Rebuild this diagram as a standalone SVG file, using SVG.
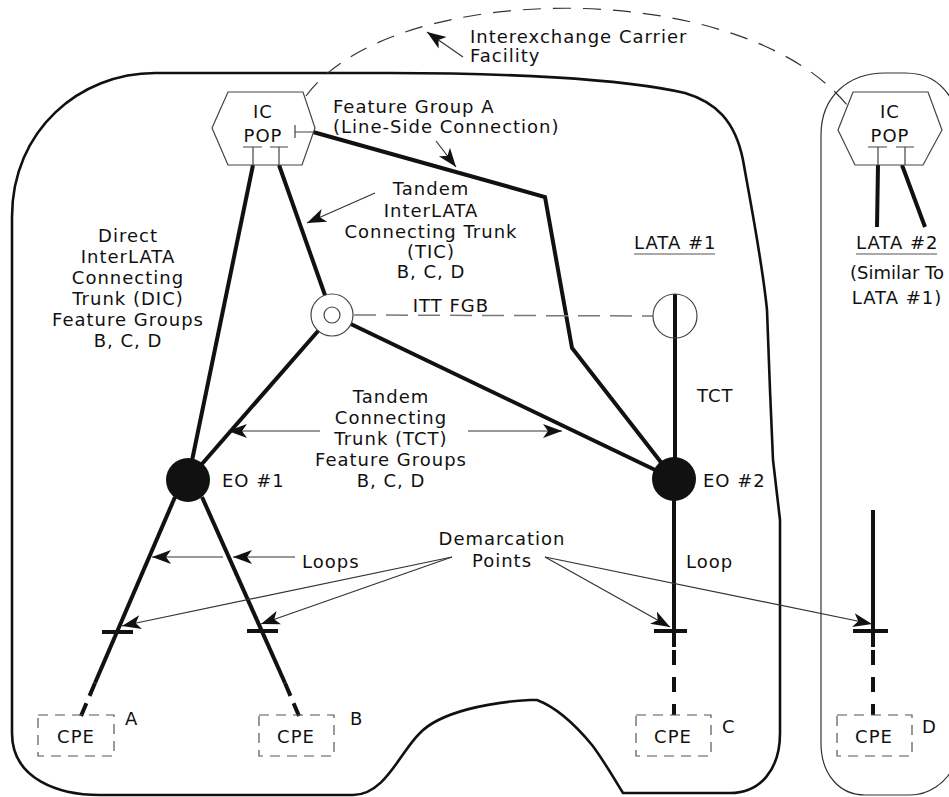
<svg xmlns="http://www.w3.org/2000/svg" width="949" height="797" viewBox="0 0 949 797">
<style>
text{font-family:"DejaVu Sans","Liberation Sans",sans-serif;font-size:18px;letter-spacing:1px;fill:#111}
.m{text-anchor:middle}
.thick{stroke:#111;stroke-width:4;fill:none}
.thickd{stroke:#111;stroke-width:4;fill:none;stroke-dasharray:15 12}
.hex{fill:#fff;stroke:#444;stroke-width:1.2}
.thin{stroke:#444;stroke-width:1.2;fill:none}
.arr{stroke:#333;stroke-width:1.2;fill:none;marker-end:url(#ah)}
.cpe{fill:none;stroke:#555;stroke-width:1.2;stroke-dasharray:10 7}
.tick{stroke:#111;stroke-width:4}
</style>
<defs>
<marker id="ah" markerUnits="userSpaceOnUse" markerWidth="22" markerHeight="16" viewBox="0 -8 22 16" refX="19" refY="0" orient="auto">
<path d="M0,-7 L19,0 L0,7 L5,0 z" fill="#111"/>
</marker>
</defs>
<rect width="949" height="797" fill="#fff"/>

<g id="boundaries">
<path d="M12,733 L12,217 C12,130 80,73 155,73 L390,73 C500,73 620,78 685,93 C715,102 735,120 743,160 C750,200 762,260 767,310 L770,390 L773,460 L780,520 L780,733 C780,770 760,793 730,793 L623,793 C612,775 602,758 592,745 C578,728 558,708 537,700 L530,700 C490,702 440,712 420,733 C400,752 385,795 353,795 L100,795 C60,795 12,780 12,733 Z" fill="none" stroke="#111" stroke-width="2.6"/>
<path d="M952,100 C940,80 925,73 905,73 L885,73 C850,73 821,95 821,135 L821,743 C821,775 840,795 865,795 L910,795 C930,795 945,782 952,770" fill="none" stroke="#333" stroke-width="1.2"/>
<path d="M306,96 C390,-20 740,-25 847,105" fill="none" stroke="#333" stroke-width="1.2" stroke-dasharray="18 12"/>
</g>

<g id="connectors">
<line class="thick" x1="253" y1="165" x2="188" y2="480"/>
<line class="thick" x1="279" y1="165" x2="332" y2="315"/>
<polyline class="thick" points="313,132 545,197 572,348 674,479"/>
<line class="thick" x1="332" y1="315" x2="188" y2="480"/>
<line class="thick" x1="332" y1="315" x2="674" y2="479"/>
<line x1="354" y1="315" x2="653" y2="316" stroke="#777" stroke-width="1.5" stroke-dasharray="22 10"/>
<line class="thick" x1="675" y1="294" x2="675" y2="479"/>
<line class="thick" x1="878" y1="165" x2="877" y2="227"/>
<line class="thick" x1="902" y1="165" x2="925" y2="227"/>
<line class="thick" x1="175" y1="497" x2="95" y2="683"/>
<line class="thickd" x1="95" y1="683" x2="81" y2="716" style="stroke-dasharray:14 8"/>
<line class="thick" x1="202" y1="497" x2="285" y2="683"/>
<line class="thickd" x1="285" y1="683" x2="299" y2="716" style="stroke-dasharray:14 8"/>
<line class="thick" x1="674" y1="500" x2="674" y2="647"/>
<line class="thickd" x1="674" y1="650" x2="674" y2="715"/>
<line class="thick" x1="873" y1="510" x2="873" y2="647"/>
<line class="thickd" x1="873" y1="650" x2="873" y2="715"/>
<line class="tick" x1="102" y1="632" x2="133" y2="632"/>
<line class="tick" x1="247" y1="631" x2="278" y2="631"/>
<line class="tick" x1="654" y1="631" x2="687" y2="631"/>
<line class="tick" x1="853" y1="631" x2="888" y2="631"/>
</g>

<g id="pop-left">
<polygon class="hex" points="212,128 228,92 303,92 315,128 302,165 228,165"/>
<text class="m" x="263" y="118">IC</text>
<text class="m" x="263" y="142">POP</text>
<path class="thin" d="M243,147 H262 M253,147 V165 M270,147 H288 M279,147 V165 M295,125 V138 M295,132 H314"/>
</g>

<g id="pop-right">
<polygon class="hex" points="838,130 853,92 928,92 942,130 923,165 855,165"/>
<text class="m" x="890" y="118">IC</text>
<text class="m" x="890" y="142">POP</text>
<path class="thin" d="M868,147 H887 M878,147 V165 M896,147 H914 M905,147 V165"/>
</g>

<g id="tandem">
<circle cx="332" cy="315" r="21" fill="#fff" stroke="#444" stroke-width="1.2"/>
<circle cx="332" cy="315" r="8" fill="#fff" stroke="#444" stroke-width="1.2"/>
</g>

<g id="itt">
<circle cx="675" cy="316" r="22" fill="none" stroke="#444" stroke-width="1.2"/>
</g>

<g id="eo1">
<circle cx="188" cy="480" r="22" fill="#111"/>
<text x="222" y="487">EO #1</text>
</g>

<g id="eo2">
<circle cx="674" cy="479" r="22" fill="#111"/>
<text x="703" y="487">EO #2</text>
</g>

<g id="cpe-a">
<rect class="cpe" x="38" y="715" width="76" height="41"/>
<text class="m" x="76" y="743">CPE</text>
<text x="125" y="725">A</text>
</g>
<g id="cpe-b">
<rect class="cpe" x="259" y="715" width="75" height="41"/>
<text class="m" x="296" y="743">CPE</text>
<text x="350" y="725">B</text>
</g>
<g id="cpe-c">
<rect class="cpe" x="636" y="715" width="75" height="41"/>
<text class="m" x="673" y="743">CPE</text>
<text x="722" y="733">C</text>
</g>
<g id="cpe-d">
<rect class="cpe" x="837" y="715" width="75" height="41"/>
<text class="m" x="874" y="743">CPE</text>
<text x="922" y="733">D</text>
</g>

<g id="labels">
<text x="470" y="43">Interexchange Carrier</text>
<text x="470" y="62">Facility</text>
<text x="333" y="113">Feature Group A</text>
<text x="333" y="133">(Line-Side Connection)</text>
<text class="m" x="431" y="195">Tandem</text>
<text class="m" x="431" y="217">InterLATA</text>
<text class="m" x="431" y="238">Connecting Trunk</text>
<text class="m" x="431" y="258">(TIC)</text>
<text class="m" x="431" y="278">B, C, D</text>
<text class="m" x="128" y="242">Direct</text>
<text class="m" x="128" y="263">InterLATA</text>
<text class="m" x="128" y="284">Connecting</text>
<text class="m" x="128" y="305">Trunk (DIC)</text>
<text class="m" x="128" y="326">Feature Groups</text>
<text class="m" x="128" y="347">B, C, D</text>
<text class="m" x="451" y="312">ITT FGB</text>
<text x="634" y="249">LATA #1</text>
<line x1="634" y1="254" x2="715" y2="254" stroke="#555" stroke-width="1.2"/>
<text x="856" y="249">LATA #2</text>
<line x1="856" y1="254" x2="937" y2="254" stroke="#555" stroke-width="1.2"/>
<text class="m" x="897" y="279" style="letter-spacing:0">(Similar To</text>
<text class="m" x="897" y="304">LATA #1)</text>
<text x="697" y="402">TCT</text>
<text class="m" x="391" y="403">Tandem</text>
<text class="m" x="391" y="424">Connecting</text>
<text class="m" x="391" y="445">Trunk (TCT)</text>
<text class="m" x="391" y="466">Feature Groups</text>
<text class="m" x="391" y="487">B, C, D</text>
<text x="302" y="568">Loops</text>
<text x="686" y="568">Loop</text>
<text class="m" x="502" y="545">Demarcation</text>
<text class="m" x="502" y="567">Points</text>
</g>

<g id="arrows">
<line class="arr" x1="463" y1="57" x2="427" y2="32"/>
<line class="arr" x1="436" y1="141" x2="456" y2="167"/>
<line class="arr" x1="375" y1="193" x2="307" y2="223"/>
<line class="arr" x1="320" y1="431" x2="228" y2="431"/>
<line class="arr" x1="468" y1="431" x2="562" y2="431"/>
<line class="arr" x1="295" y1="557" x2="233" y2="557"/>
<line class="arr" x1="223" y1="557" x2="152" y2="557"/>
<line class="arr" x1="452" y1="557" x2="122" y2="626"/>
<line class="arr" x1="452" y1="557" x2="261" y2="624"/>
<line class="arr" x1="545" y1="557" x2="670" y2="627"/>
<line class="arr" x1="545" y1="557" x2="872" y2="624"/>
</g>
</svg>
